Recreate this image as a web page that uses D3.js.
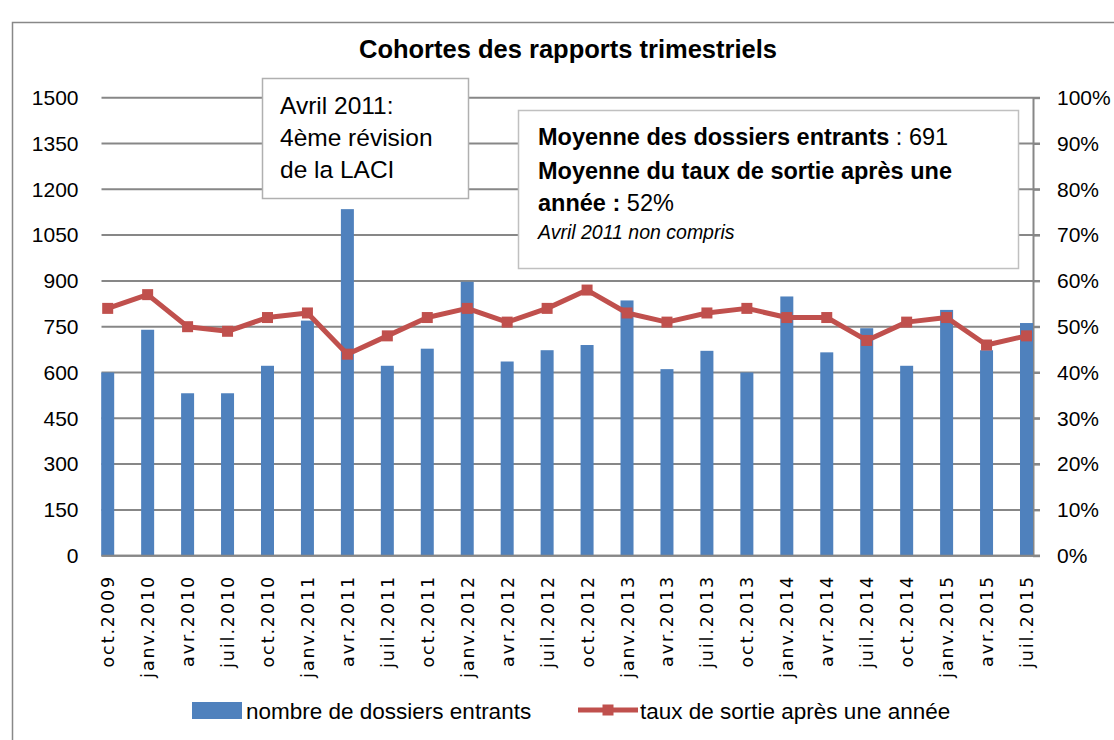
<!DOCTYPE html>
<html>
<head>
<meta charset="utf-8">
<script src="https://cdn.jsdelivr.net/npm/d3@7"></script>
<style>
  body { margin: 0; background: #fff; }
  svg text { font-family: "Liberation Sans", "DejaVu Sans", sans-serif; fill: #000; }
</style>
</head>
<body>
<script>
// quarters of the cohorts
const quarters = ["oct.2009", "janv.2010", "avr.2010", "juil.2010", "oct.2010", "janv.2011",
  "avr.2011", "juil.2011", "oct.2011", "janv.2012", "avr.2012", "juil.2012", "oct.2012",
  "janv.2013", "avr.2013", "juil.2013", "oct.2013", "janv.2014", "avr.2014", "juil.2014",
  "oct.2014", "janv.2015", "avr.2015", "juil.2015"];

// number of incoming files
const entrants = [600, 740, 532, 532, 622, 770, 1135, 622, 678, 897, 636, 673, 690,
  836, 611, 671, 600, 849, 666, 745, 622, 805, 673, 762];

// exit rate after one year (%)
const tauxSortie = [54, 57, 50, 49, 52, 53, 44, 48, 52, 54, 51, 54, 58,
  53, 51, 53, 54, 52, 52, 47, 51, 52, 46, 48];

const leftTicks = [0, 150, 300, 450, 600, 750, 900, 1050, 1200, 1350, 1500];
const rightTicks = [0, 10, 20, 30, 40, 50, 60, 70, 80, 90, 100];

const width = 1114, height = 740;
const plot = {left: 101.5, right: 1033, top: 97.7, bottom: 555.7};

const blue = "#4f81bd", red = "#c0504d", grid = "#878787";

const svg = d3.select("body").append("svg")
    .attr("width", width)
    .attr("height", height);

// outer frame of the chart
svg.append("rect")
    .attr("x", 12.5).attr("y", 22.5)
    .attr("width", 1130).attr("height", 740)
    .attr("fill", "#fff")
    .attr("stroke", "#888").attr("stroke-width", 1.5);

// title
svg.append("text")
    .attr("x", 568).attr("y", 58)
    .attr("text-anchor", "middle")
    .style("font-size", "25.5px")
    .style("font-weight", "bold")
    .text("Cohortes des rapports trimestriels");

// scales
const xScale = d3.scalePoint()
    .domain(quarters)
    .range([107.7, 1026.5]);

const yLeft = d3.scaleLinear()
    .domain([0, 1500])
    .range([plot.bottom, plot.top]);

const yRight = d3.scaleLinear()
    .domain([0, 100])
    .range([plot.bottom, plot.top]);

// horizontal gridlines
svg.append("g")
    .selectAll("line")
    .data(leftTicks)
    .enter().append("line")
    .attr("x1", plot.left)
    .attr("x2", 1040)
    .attr("y1", d => yLeft(d))
    .attr("y2", d => yLeft(d))
    .attr("stroke", grid)
    .attr("stroke-width", 2);

// left axis labels
const leftAxis = svg.append("g")
    .attr("transform", "translate(" + plot.left + ",0)")
    .call(d3.axisLeft(yLeft).tickValues(leftTicks).tickSize(0).tickPadding(23)
      .tickFormat(d3.format("d")));
leftAxis.select(".domain").remove();
leftAxis.selectAll("text")
    .style("font-family", "'Liberation Sans', sans-serif")
    .style("font-size", "21px");

// right axis
const rightAxis = svg.append("g")
    .attr("transform", "translate(" + plot.right + ",0)")
    .call(d3.axisRight(yRight).tickValues(rightTicks).tickSize(7).tickPadding(17)
      .tickFormat(d => d + "%"));
rightAxis.select(".domain")
    .attr("stroke", grid).attr("stroke-width", 2)
    .attr("d", "M0.5," + plot.top + "V" + plot.bottom);
rightAxis.selectAll("line").attr("stroke", grid).attr("stroke-width", 2);
rightAxis.selectAll("text")
    .style("font-family", "'Liberation Sans', sans-serif")
    .style("font-size", "21px");

// bars
const barWidth = 13;
svg.append("g")
    .selectAll("rect")
    .data(entrants)
    .enter().append("rect")
    .attr("x", (d, i) => xScale(quarters[i]) - barWidth / 2)
    .attr("y", d => yLeft(d))
    .attr("width", barWidth)
    .attr("height", d => yLeft(0) - yLeft(d))
    .attr("fill", blue);

// bottom axis line
svg.append("line")
    .attr("x1", plot.left).attr("x2", 1040)
    .attr("y1", plot.bottom).attr("y2", plot.bottom)
    .attr("stroke", grid).attr("stroke-width", 2);

// line for exit rate
const line = d3.line()
    .x((d, i) => xScale(quarters[i]))
    .y(d => yRight(d));

svg.append("path")
    .datum(tauxSortie)
    .attr("d", line)
    .attr("fill", "none")
    .attr("stroke", red)
    .attr("stroke-width", 5)
    .attr("stroke-linejoin", "round");

svg.append("g")
    .selectAll("rect")
    .data(tauxSortie)
    .enter().append("rect")
    .attr("x", (d, i) => xScale(quarters[i]) - 5.5)
    .attr("y", d => yRight(d) - 5.5)
    .attr("width", 11).attr("height", 11)
    .attr("fill", red);

// category labels, rotated
svg.append("g")
    .selectAll("text")
    .data(quarters)
    .enter().append("text")
    .attr("transform", (d, i) => "translate(" + (xScale(d) + 6.5) + ",575) rotate(-90)")
    .attr("text-anchor", "end")
    .style("font-family", "'DejaVu Sans', sans-serif")
    .style("font-size", "17.5px")
    .style("letter-spacing", "1.9px")
    .text(d => d);

// annotation: LACI revision
svg.append("rect")
    .attr("x", 262.5).attr("y", 78.5)
    .attr("width", 206).attr("height", 120)
    .attr("fill", "#fff")
    .attr("stroke", "#b0b0b0").attr("stroke-width", 1.5);

const note1 = ["Avril 2011:", "4ème révision", "de la LACI"];
svg.append("g")
    .selectAll("text")
    .data(note1)
    .enter().append("text")
    .attr("x", 280)
    .attr("y", (d, i) => 114 + i * 32)
    .style("font-size", "24.5px")
    .text(d => d);

// annotation: averages
svg.append("rect")
    .attr("x", 518.5).attr("y", 110.5)
    .attr("width", 500).attr("height", 158)
    .attr("fill", "#fff")
    .attr("stroke", "#c0c0c0").attr("stroke-width", 1.5);

const t1 = svg.append("text").attr("x", 538).attr("y", 145).style("font-size", "23.5px");
t1.append("tspan").style("font-weight", "bold").text("Moyenne des dossiers entrants");
t1.append("tspan").text(" : 691");

svg.append("text").attr("x", 538).attr("y", 179)
    .style("font-size", "23.5px").style("font-weight", "bold")
    .text("Moyenne du taux de sortie après une");

const t3 = svg.append("text").attr("x", 538).attr("y", 211).style("font-size", "23.5px");
t3.append("tspan").style("font-weight", "bold").text("année :");
t3.append("tspan").text(" 52%");

svg.append("text").attr("x", 538).attr("y", 239)
    .style("font-size", "19.5px").style("font-style", "italic")
    .text("Avril 2011 non compris");

// legend
svg.append("rect")
    .attr("x", 192).attr("y", 702)
    .attr("width", 50).attr("height", 17)
    .attr("fill", blue);
svg.append("text")
    .attr("x", 246).attr("y", 719)
    .style("font-size", "22.5px")
    .text("nombre de dossiers entrants");

svg.append("line")
    .attr("x1", 578).attr("x2", 638)
    .attr("y1", 710).attr("y2", 710)
    .attr("stroke", red).attr("stroke-width", 5);
svg.append("rect")
    .attr("x", 602.5).attr("y", 704.5)
    .attr("width", 11).attr("height", 11)
    .attr("fill", red);
svg.append("text")
    .attr("x", 640).attr("y", 719)
    .style("font-size", "22.5px")
    .text("taux de sortie après une année");
</script>
</body>
</html>
